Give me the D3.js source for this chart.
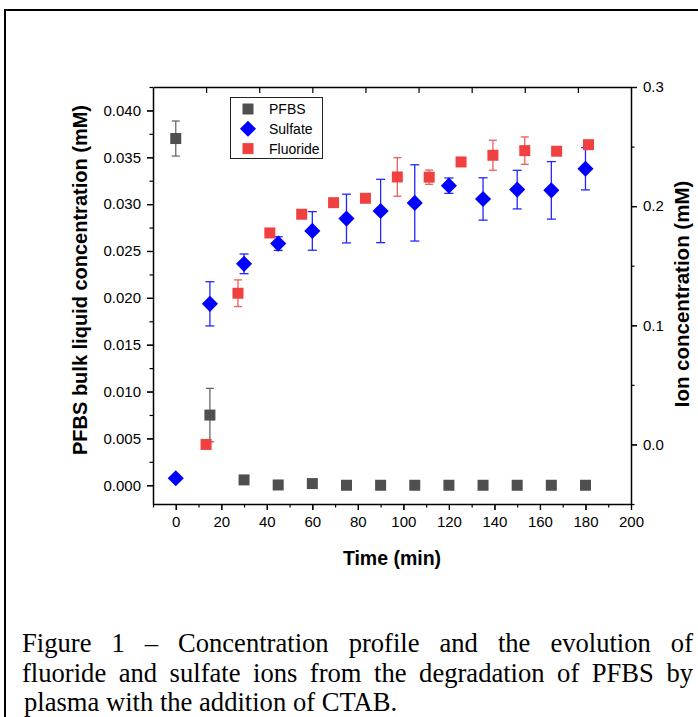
<!DOCTYPE html>
<html><head><meta charset="utf-8">
<script src="https://cdn.jsdelivr.net/npm/d3@7"></script>
<style>
html,body{margin:0;padding:0;background:#fff;}
svg{display:block;}
</style></head>
<body>
<svg id="chart" width="698" height="717"></svg>
<script>
// ---------------- data ----------------
const times = [0,15,30,45,60,75,90,105,120,135,150,165,180];
const pfbs    = [0.0370,0.00749,0.00057,0.00003,0.00018,0,0,0,0,0,0,0,0];
const pfbsErr = [0.00187,0.00285,0.0001,0,0,0,0,0,0,0,0,0,0];
const sulfate    = [0.00075,0.01936,0.02363,0.02579,0.02714,0.02846,0.02927,0.03013,0.03197,0.03055,0.03155,0.03147,0.03378];
const sulfateErr = [0,0.00236,0.00105,0.00073,0.00206,0.0026,0.00338,0.00407,0.00082,0.00226,0.00206,0.00307,0.00226];
const fluoride    = [0.0,0.1269,0.1775,0.1932,0.2029,0.2066,0.2245,0.2243,0.2371,0.2427,0.2466,0.2461,0.2516];
const fluorideErr = [0,0.0112,0,0,0,0,0.0162,0.006,0,0.0126,0.0115,0,0.003];
const xTickLabels = [0,20,40,60,80,100,120,140,160,180,200];
const yLeftTicks  = [0,0.005,0.010,0.015,0.020,0.025,0.030,0.035,0.040];
const yRightTicks = [0.0,0.1,0.2,0.3];
const topTicks    = [0,25,50,75,100,125,150,175];
const legendNames = ["PFBS","Sulfate","Fluoride"];
const captionLines = [
  "Figure 1 \u2013 Concentration profile and the evolution of",
  "fluoride and sulfate ions from the degradation of PFBS by",
  "plasma with the addition of CTAB."
];
const colors = {PFBS:"#4f4f4f", Sulfate:"#0000ff", Fluoride:"#f04040"};

// ---------------- layout ----------------
const svg = d3.select("#chart");
const L = 153, R = 631, T = 87, B = 504;
const x1 = d3.scaleLinear().domain([-10,200]).range([L,R]);
const x2 = d3.scaleLinear().domain([-25,200]).range([L,R]);
const yL = d3.scaleLinear().domain([-0.002,0.0425]).range([B,T]);
const yR = d3.scaleLinear().domain([-0.05,0.3]).range([B,T]);
const sans = "'Liberation Sans', Arial, sans-serif";

// outer frame
svg.append("path").attr("d", `M5,717 L5,10 L700,10`).attr("fill","none").attr("stroke","#000").attr("stroke-width",2);

// axes
const gx = svg.append("g").attr("transform",`translate(0,${B})`);
gx.call(d3.axisBottom(x1).tickValues(d3.range(-10,201,10)).tickSize(6).tickSizeOuter(0).tickFormat(""));
gx.selectAll(".tick line").attr("y2", d => (d % 20 === 0) ? 6 : 3.5);
const gxl = svg.append("g").attr("transform",`translate(0,${B})`);
gxl.call(d3.axisBottom(x1).tickValues(xTickLabels).tickSize(6).tickPadding(6).tickSizeOuter(0));
gxl.select(".domain").remove();

const gt = svg.append("g").attr("transform",`translate(0,${T})`);
gt.call(d3.axisBottom(x2).tickValues(topTicks).tickSize(6).tickSizeOuter(0).tickFormat(""));

const gl = svg.append("g").attr("transform",`translate(${L},0)`);
gl.call(d3.axisLeft(yL).tickValues(d3.range(0,0.0426,0.0025)).tickSize(6).tickSizeOuter(0).tickFormat(""));
gl.selectAll(".tick line").attr("x2", (d,i) => (i % 2 === 0) ? -6 : -3.5);
const gll = svg.append("g").attr("transform",`translate(${L},0)`);
gll.call(d3.axisLeft(yL).tickValues(yLeftTicks).tickSize(6).tickPadding(6).tickSizeOuter(0).tickFormat(d3.format(".3f")));
gll.select(".domain").remove();

const gr = svg.append("g").attr("transform",`translate(${R},0)`);
gr.call(d3.axisRight(yR).tickValues(d3.range(-0.05,0.301,0.05)).tickSize(6).tickSizeOuter(0).tickFormat(""));
gr.selectAll(".tick line").attr("x2", (d,i) => (i % 2 === 1) ? 6 : 3.5);
const grl = svg.append("g").attr("transform",`translate(${R},0)`);
grl.call(d3.axisRight(yR).tickValues(yRightTicks).tickSize(6).tickPadding(6).tickSizeOuter(0).tickFormat(d3.format(".1f")));
grl.select(".domain").remove();

svg.selectAll(".domain").attr("stroke","#000").attr("stroke-width",1.5);
svg.selectAll(".tick line").attr("stroke","#000").attr("stroke-width",1.2);
svg.selectAll(".tick text").attr("font-family",sans).attr("font-size",15).attr("fill","#000");

// axis titles
svg.append("text").attr("transform",`translate(87,280) rotate(-90)`).attr("text-anchor","middle")
  .attr("font-family",sans).attr("font-weight","bold").attr("font-size",20).text("PFBS bulk liquid concentration (mM)");
svg.append("text").attr("transform",`translate(689,294) rotate(-90)`).attr("text-anchor","middle")
  .attr("font-family",sans).attr("font-weight","bold").attr("font-size",20.5).text("Ion concentration (mM)");
svg.append("text").attr("x",392).attr("y",565).attr("text-anchor","middle")
  .attr("font-family",sans).attr("font-weight","bold").attr("font-size",19.5).text("Time (min)");

// ---------------- marks ----------------
function errBars(g, xs, ys, vals, errs, color, capW){
  const d = times.map((t,i)=>({t, v:vals[i], e:errs[i]})).filter(o=>o.e>0);
  const gg = g.append("g").attr("stroke",color).attr("stroke-width",1.3).attr("opacity",0.85);
  gg.selectAll("line.v").data(d).join("line").attr("x1",o=>xs(o.t)).attr("x2",o=>xs(o.t))
    .attr("y1",o=>ys(o.v+o.e)).attr("y2",o=>ys(o.v-o.e));
  gg.selectAll("line.t").data(d).join("line").attr("x1",o=>xs(o.t)-capW/2).attr("x2",o=>xs(o.t)+capW/2)
    .attr("y1",o=>ys(o.v+o.e)).attr("y2",o=>ys(o.v+o.e));
  gg.selectAll("line.b").data(d).join("line").attr("x1",o=>xs(o.t)-capW/2).attr("x2",o=>xs(o.t)+capW/2)
    .attr("y1",o=>ys(o.v-o.e)).attr("y2",o=>ys(o.v-o.e));
}
const sq = d3.symbol(d3.symbolSquare, 121);
const dia = d3.symbol(d3.symbolSquare, 130);
const plot = svg.append("g");

// layer 1: PFBS & sulfate
errBars(plot, x1, yL, pfbs, pfbsErr, colors.PFBS, 8);
plot.append("g").selectAll("path").data(times).join("path")
  .attr("d", sq).attr("fill",colors.PFBS)
  .attr("transform",(t,i)=>`translate(${x1(t)},${yL(pfbs[i])})`);
errBars(plot, x1, yL, sulfate, sulfateErr, colors.Sulfate, 9);
plot.append("g").selectAll("path").data(times).join("path")
  .attr("d", dia).attr("fill",colors.Sulfate)
  .attr("transform",(t,i)=>`translate(${x1(t)},${yL(sulfate[i])}) rotate(45)`);
// layer 2: fluoride
errBars(plot, x2, yR, fluoride, fluorideErr, colors.Fluoride, 8);
plot.append("g").selectAll("path").data(times).join("path")
  .attr("d", sq).attr("fill",colors.Fluoride)
  .attr("transform",(t,i)=>`translate(${x2(t)},${yR(fluoride[i])})`);

// ---------------- legend ----------------
const lg = svg.append("g");
lg.append("rect").attr("x",230.5).attr("y",97.5).attr("width",92).attr("height",61)
  .attr("fill","#fff").attr("stroke","#222").attr("stroke-width",1);
legendNames.forEach((n,i)=>{
  const yy = 109 + i*19.8;
  lg.append("path").attr("d", n==="Sulfate" ? dia() : sq())
    .attr("fill",colors[n])
    .attr("transform", n==="Sulfate" ? `translate(248,${yy}) rotate(45)` : `translate(248,${yy})`);
  lg.append("text").attr("x",269).attr("y",yy).attr("dy","0.36em")
    .attr("font-family",sans).attr("font-size",14).text(n);
});

// ---------------- caption ----------------
const serif = "'Liberation Serif','Times New Roman',serif";
const capX0 = 22, capX1 = 693, capFS = 26.6;
const baselines = [652, 681.5, 711];
captionLines.forEach((line,li)=>{
  const words = line.split(" ");
  const g = svg.append("g");
  const nodes = words.map(w => g.append("text").attr("y",baselines[li])
     .attr("font-family",serif).attr("font-size",capFS).attr("fill","#000").text(w));
  const widths = nodes.map(n => n.node().getComputedTextLength());
  const total = d3.sum(widths);
  const justify = li < captionLines.length-1;
  const gap = justify ? (capX1-capX0-total)/(words.length-1) : capFS*0.25;
  let x = capX0 + (justify ? 0 : 2);
  nodes.forEach((n,i)=>{ n.attr("x",x); x += widths[i] + gap; });
});
</script>
</body></html>
